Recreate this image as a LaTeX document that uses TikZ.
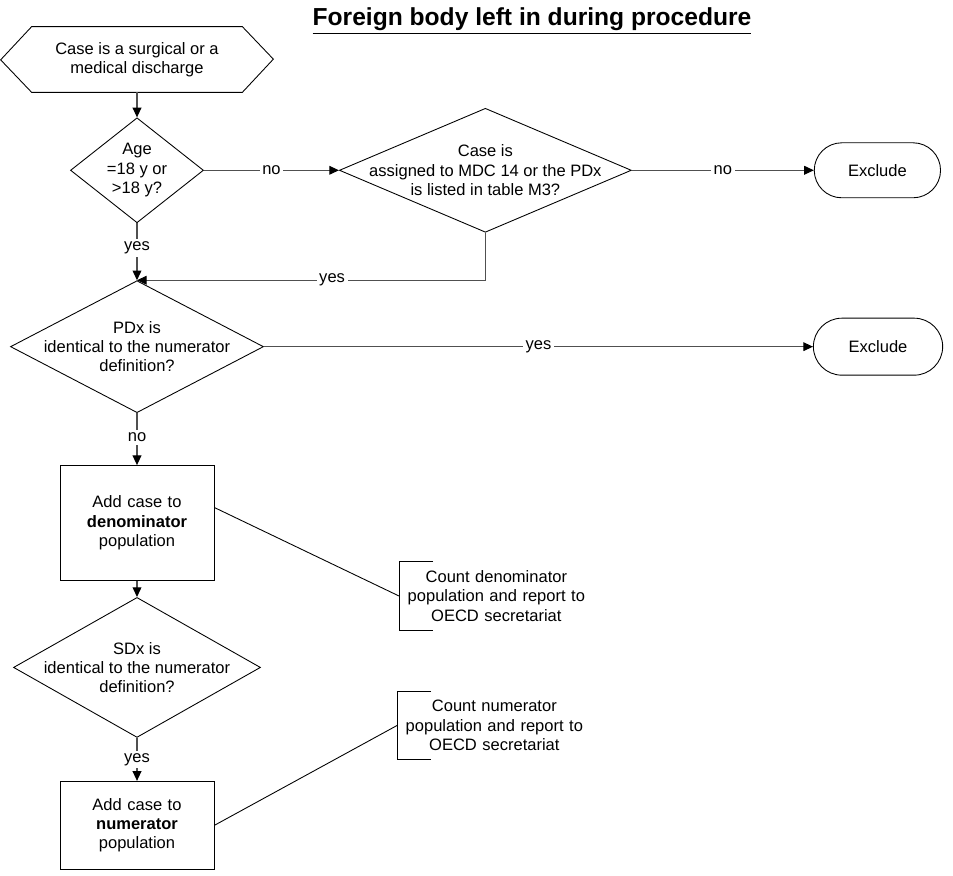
\documentclass[tikz,border=0pt]{standalone}
\usepackage{fontspec}
\setmainfont{Liberation Sans}
\usepackage{tikz}
\usetikzlibrary{shapes.geometric, shapes.misc, arrows.meta, positioning}
\definecolor{linegray}{RGB}{80,80,80}

\begin{document}
\begin{tikzpicture}[
    node distance=1cm,
    font=\fontsize{9.4}{11}\selectfont,
    every label/.style={align=center, font=\fontsize{9.4}{11}\selectfont},
    decision/.style={diamond, draw, inner sep=0pt, line width=0.5pt},
    process/.style={rectangle, draw, align=center, text width=2.8cm, inner xsep=0.14cm, line width=0.5pt},
    terminal/.style={rounded rectangle, draw, minimum width=2.76cm, minimum height=1.1cm, line width=0.5pt},
    remark/.style={align=center, text width=3.6cm, inner xsep=0.14cm, minimum height=1.36cm},
    arrow/.style={-{Triangle[length=5.5pt, width=5pt, color=black]}, draw=linegray, line width=0.6pt},
    link/.style={draw=black, line width=0.5pt},
    tag/.style={fill=white, inner sep=1.5pt}
]
\useasboundingbox (0,0) rectangle (19.06,-17.5);

\node[font=\fontsize{14}{16}\selectfont\bfseries] (title) at (10.64,-0.42) {\underline{Foreign body left in during procedure}};

\node[minimum width=4.2cm, minimum height=1.3cm, align=center, inner sep=0pt] (start) at (2.74,-1.19) {Case is a surgical or a\\medical discharge};
\draw[line width=0.5pt] (start.north west) -- (start.north east) -- ++(0.62,-0.65) -- (start.south east) -- (start.south west) -- ++(-0.62,0.65) -- cycle;

\node[decision, minimum width=2.66cm, minimum height=2.1cm, below=0.5cm of start, label={center:{Age\\=18 y or\\>18 y?}}] (age) {};
\node[decision, minimum width=5.84cm, minimum height=2.48cm, right=2.7cm of age, label={center:{Case is\\assigned to MDC 14 or the PDx\\is listed in table M3?}}] (mdc) {};
\node[terminal, right=3.64cm of mdc] (excl1) {Exclude};

\node[decision, minimum width=5.06cm, minimum height=2.64cm, below=1.14cm of age, label={center:{PDx is\\identical to the numerator\\definition?}}] (pdx) {};
\node[terminal, minimum width=2.82cm, minimum height=1.14cm, right=10.98cm of pdx] (excl2) {Exclude};

\node[process, minimum height=2.3cm, below=1.04cm of pdx] (denom) {Add case to\\\textbf{denominator}\\population};
\node[decision, minimum width=4.94cm, minimum height=2.8cm, below=0.32cm of denom, label={center:{SDx is\\identical to the numerator\\definition?}}] (sdx) {};
\node[process, minimum height=1.76cm, below=0.86cm of sdx] (numer) {Add case to\\\textbf{numerator}\\population};

\node[remark, anchor=west] (cntden) at (7.98,-11.92) {Count denominator\\population and report to\\OECD secretariat};
\node[remark, anchor=west] (cntnum) at (7.94,-14.51) {Count numerator\\population and report to\\OECD secretariat};
\draw[link] ([xshift=0.68cm]cntden.north west) -- (cntden.north west) -- (cntden.south west) -- ([xshift=0.68cm]cntden.south west);
\draw[link] ([xshift=0.68cm]cntnum.north west) -- (cntnum.north west) -- (cntnum.south west) -- ([xshift=0.68cm]cntnum.south west);

\draw[arrow] (start.south) -- (age.north);
\draw[arrow] (age.east) -- node[tag] {no} (mdc.west);
\draw[arrow] (mdc.east) -- node[tag] {no} (excl1.west);
\draw[arrow] (age.south) -- node[tag, pos=0.43] {yes} (pdx.north);
\draw[arrow] (mdc.south) |- node[tag, pos=0.72] {yes} (pdx.north);
\draw[arrow] (pdx.east) -- node[tag] {yes} (excl2.west);
\draw[arrow] (pdx.south) -- node[tag, pos=0.47] {no} (denom.north);
\draw[arrow] (denom.south) -- (sdx.north);
\draw[arrow] (sdx.south) -- node[tag] {yes} (numer.north);
\draw[link] ([yshift=0.31cm]denom.east) -- (cntden.west);
\draw[link] (numer.east) -- (cntnum.west);

\end{tikzpicture}
\end{document}
